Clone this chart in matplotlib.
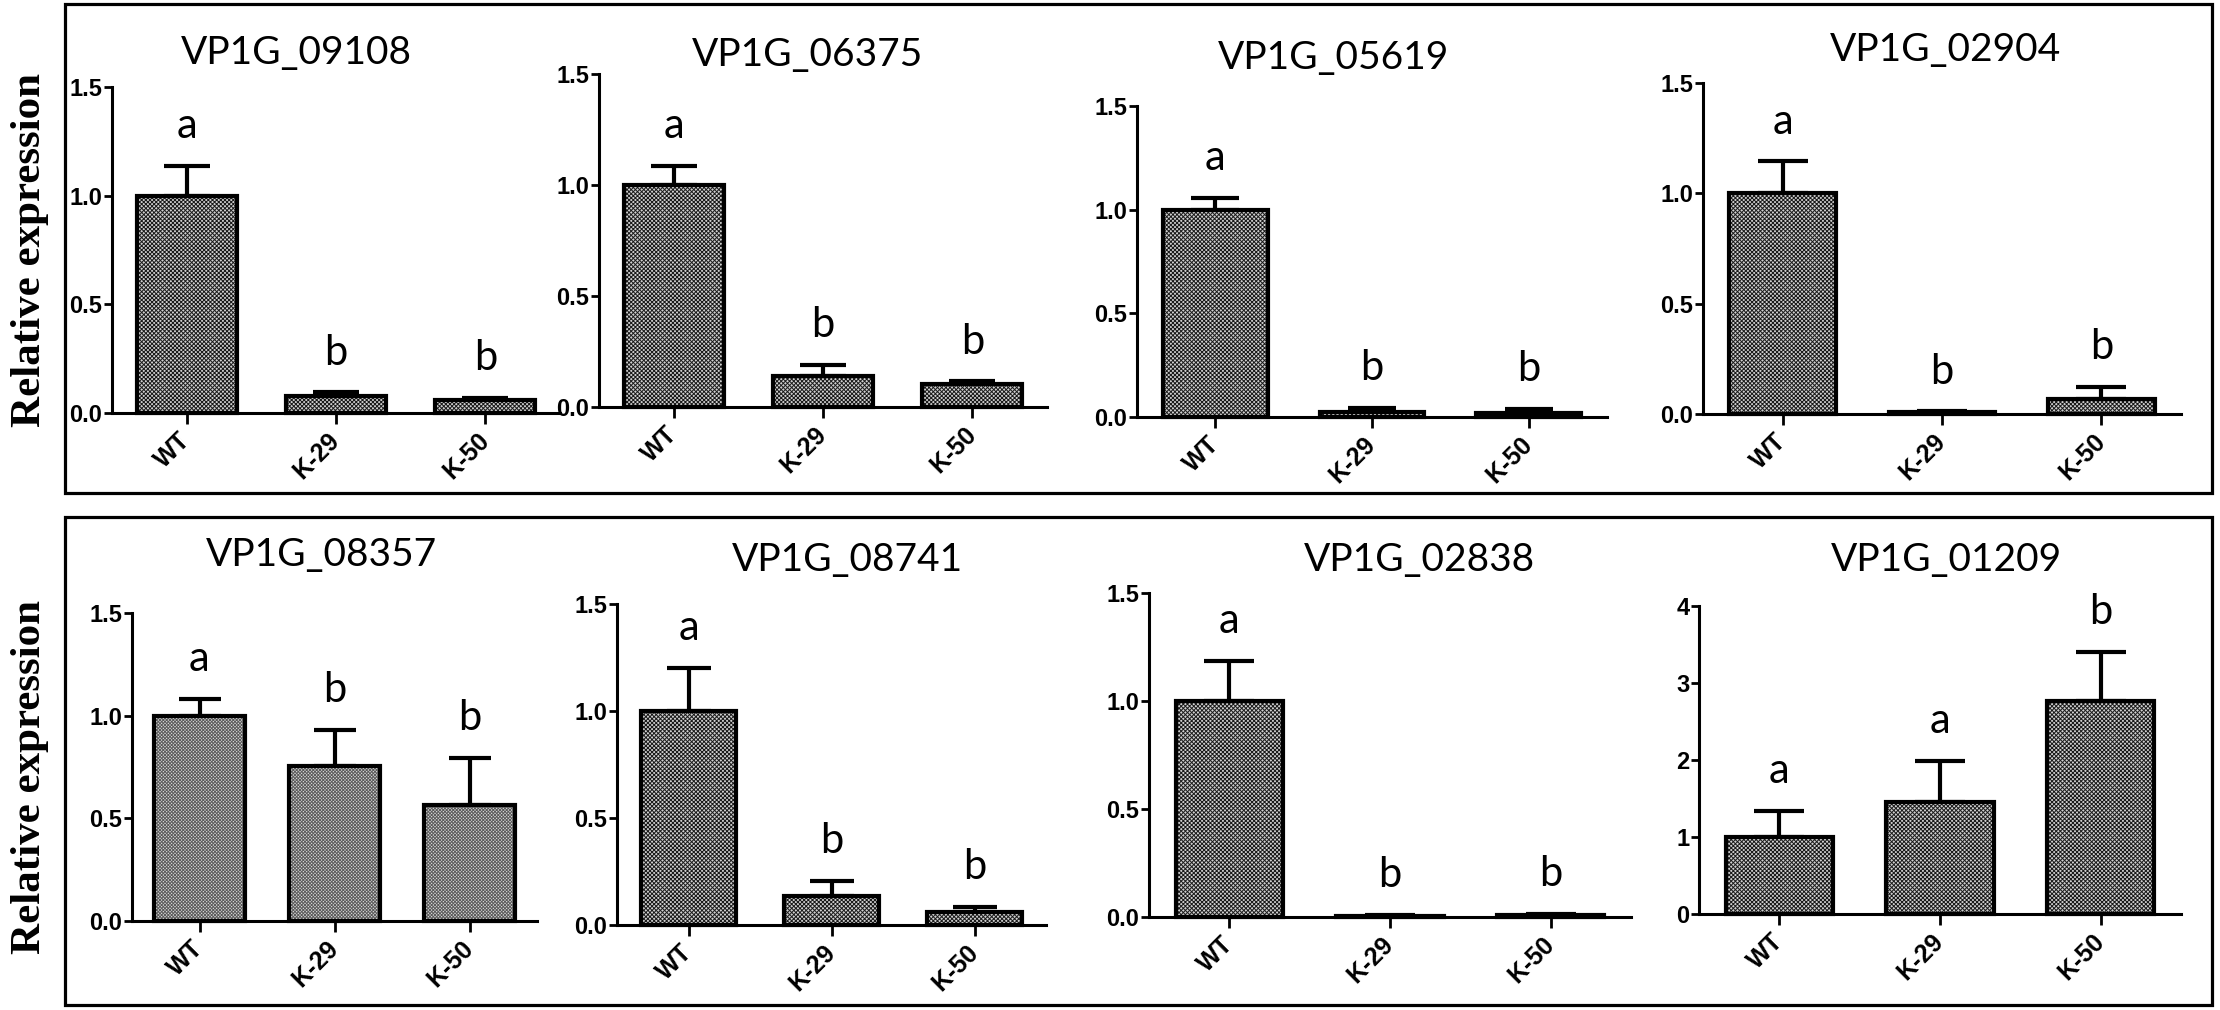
import numpy as np
import matplotlib
matplotlib.use('Agg')
from matplotlib import pyplot as plt
from matplotlib.patches import Rectangle

#figure size in pixels (dpi 100)
W, H = 2220, 1010

#data
groups = ['WT', 'K-29', 'K-50']
genes = ['VP1G_09108', 'VP1G_06375', 'VP1G_05619', 'VP1G_02904',
         'VP1G_08357', 'VP1G_08741', 'VP1G_02838', 'VP1G_01209']
means = [[1.0, 0.080, 0.058],
         [1.0, 0.140, 0.105],
         [1.0, 0.025, 0.020],
         [1.0, 0.008, 0.068],
         [1.0, 0.756, 0.564],
         [1.0, 0.137, 0.062],
         [1.0, 0.005, 0.010],
         [1.0, 1.460, 2.770]]
errs = [[0.135, 0.015, 0.012],
        [0.085, 0.050, 0.010],
        [0.055, 0.020, 0.017],
        [0.145, 0.004, 0.054],
        [0.080, 0.174, 0.230],
        [0.200, 0.069, 0.021],
        [0.185, 0.003, 0.005],
        [0.340, 0.530, 0.630]]
letters = [['a', 'b', 'b']] * 7 + [['a', 'a', 'b']]
ytops = [1.5] * 7 + [4]
ysteps = [0.5] * 7 + [1]

#layout in pixels: left, right, top, bottom of each plot area
boxes = [(112, 560, 87, 413), (599, 1047, 74, 407), (1137, 1607, 106, 417), (1703, 2181, 83, 414),
         (132, 537, 613, 921), (617, 1046, 604, 925), (1149, 1631, 593, 917), (1699, 2181, 606, 914)]
title_pos = [(296, 53), (807, 55), (1334, 58), (1946, 50),
             (321, 555), (847, 560), (1419, 560), (1946, 560)]

plt.rcParams['hatch.linewidth'] = 0.7
fig = plt.figure(figsize=(W / 100, H / 100), dpi=100)
fig.patch.set_facecolor('white')

bar_w = 0.67
x = np.arange(len(groups))
for i, gene in enumerate(genes):
    l, r, t, b = boxes[i]
    ax = fig.add_axes([l / W, 1 - b / H, (r - l) / W, (b - t) / H])
    #texture first (hatch colour follows edgecolor), then the black outline on top
    if i == 4:
        ax.bar(x, means[i], width=bar_w, color='#dadada', edgecolor='#5c5c5c', linewidth=0,
               hatch='xxxxxxxxxx', zorder=3)
    else:
        ax.bar(x, means[i], width=bar_w, color='#d0d0d0', edgecolor='#1a1a1a', linewidth=0,
               hatch='xxxxxxxx', zorder=3)
    ax.bar(x, means[i], width=bar_w, fill=False, edgecolor='black', linewidth=3,
           zorder=4, clip_on=False)
    bar_px = bar_w * (r - l) / 3
    cap = 0.23 * bar_px * 72 / 100
    ax.errorbar(x, means[i], yerr=[np.zeros(3), errs[i]], fmt='none', ecolor='black',
                elinewidth=3, capsize=cap, capthick=3, zorder=2, clip_on=False)
    for j in range(3):
        ax.annotate(letters[i][j], (x[j], means[i][j] + errs[i][j]), xytext=(0, 15),
                    textcoords='offset points', ha='center', va='bottom',
                    fontsize=30, family='Lato')
    ax.set_xlim(-0.5, 2.5)
    ax.set_ylim(0, ytops[i])
    ax.set_yticks(np.arange(0, ytops[i] + 1e-9, ysteps[i]))
    if ytops[i] == 4:
        ax.set_yticklabels([str(int(v)) for v in ax.get_yticks()])
    else:
        ax.set_yticklabels(['%.1f' % v for v in ax.get_yticks()])
    ax.set_xticks(x)
    ax.set_xticklabels(groups, rotation=45, ha='right', va='center', rotation_mode='anchor')
    for lab in ax.get_xticklabels() + ax.get_yticklabels():
        lab.set_family('Liberation Sans')
        lab.set_weight('bold')
    ax.tick_params(axis='y', length=6, width=2, labelsize=17, pad=1)
    ax.tick_params(axis='x', length=8, width=2, labelsize=18, pad=9)
    for s in ['top', 'right']:
        ax.spines[s].set_visible(False)
    for s in ['left', 'bottom']:
        ax.spines[s].set_linewidth(2.2)
    ax.patch.set_alpha(0)
    tx, ty = title_pos[i]
    fig.text(tx / W, 1 - ty / H, gene, ha='center', va='center', fontsize=28, family='Lato')

#outer frames around each row
for top, bot in [(4, 493), (517, 1005)]:
    fig.add_artist(Rectangle((65 / W, 1 - bot / H), (2212 - 65) / W, (bot - top) / H,
                             transform=fig.transFigure, fill=False, linewidth=2.3, edgecolor='black'))

#row labels
for cy in [250, 777]:
    fig.text(30 / W, 1 - cy / H, 'Relative expression', rotation=90, ha='center', va='center',
             fontsize=31, family='Liberation Serif', weight='bold')

fig.savefig('out.png', dpi=100)
